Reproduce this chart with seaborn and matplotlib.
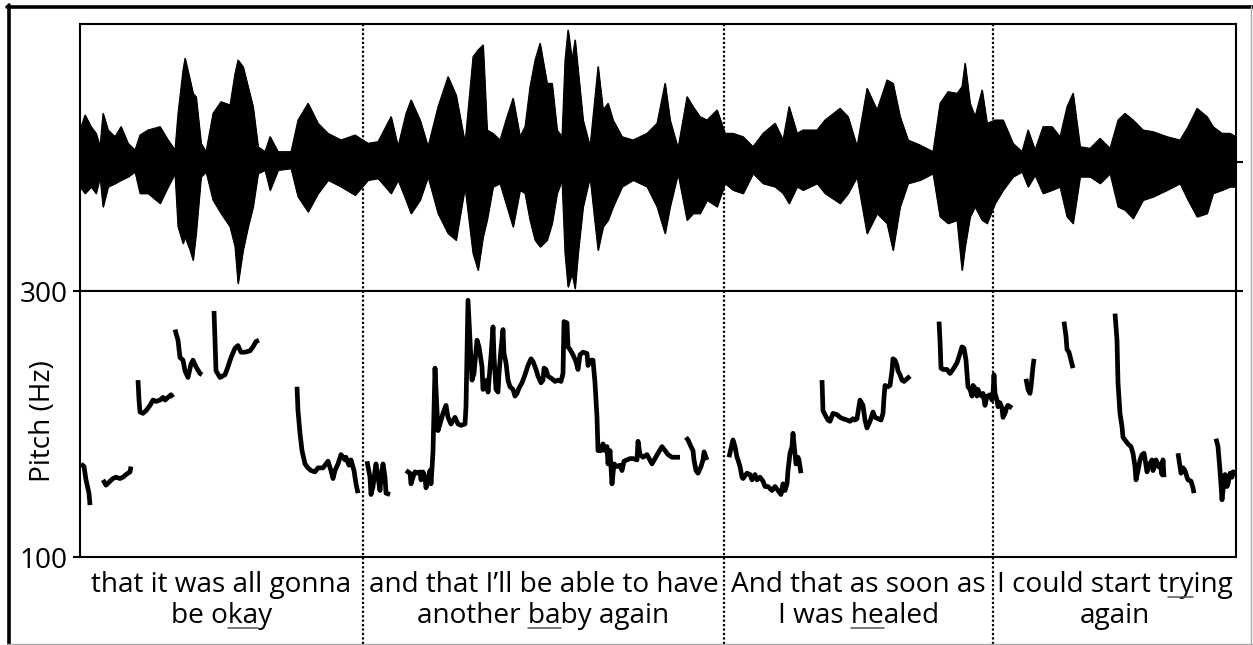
import numpy as np
import pandas as pd
import matplotlib
matplotlib.use("Agg")
import matplotlib.pyplot as plt
import seaborn as sns
from matplotlib.lines import Line2D
from matplotlib.transforms import blended_transform_factory, IdentityTransform

# ---------------- data ----------------
# waveform amplitude envelope (time in frames, amplitude in arbitrary units)
wave_t = [0, 5, 11, 16, 20, 23, 28, 35, 41, 48, 55, 60, 68, 80, 88, 95, 98, 103, 105, 110,
          113, 116, 121, 126, 133, 141, 150, 155, 158, 163, 168, 173, 178, 185, 190, 198, 211,
          218, 228, 238, 248, 261, 275, 288, 298, 311, 318, 326, 331, 340, 348, 358, 368, 376,
          385, 393, 398, 403, 407, 413, 420, 427, 433, 440, 445, 450, 455, 460, 467, 472, 477,
          482, 485, 488, 492, 495, 498, 503, 510, 518, 523, 528, 533, 542, 553, 567, 577, 585,
          590, 598, 607, 613, 620, 627, 637, 645, 653, 663, 673, 683, 695, 703, 709, 717, 723,
          737, 745, 760, 768, 777, 787, 797, 807, 813, 820, 828, 840, 853, 860, 868, 877, 882,
          885, 890, 895, 902, 907, 915, 923, 933, 942, 948, 955, 963, 972, 980, 987, 993, 1000,
          1010, 1020, 1030, 1038, 1045, 1053, 1063, 1073, 1087, 1100, 1108, 1117, 1127, 1133,
          1142, 1150, 1156]
wave_top = [95, 140, 105, 85, 45, 145, 95, 75, 105, 55, 35, 80, 95, 105, 65, 35, 145, 275, 310, 245,
            205, 195, 55, 30, 145, 180, 170, 265, 305, 285, 225, 165, 45, 30, 75, 30, 30,
            125, 175, 115, 85, 65, 80, 55, 60, 135, 45, 145, 185, 125, 45, 165, 255, 200,
            55, 315, 335, 350, 95, 85, 65, 135, 190, 75, 105, 225, 305, 355, 235, 235, 95,
            75, 305, 395, 305, 365, 275, 125, 45, 285, 155, 175, 125, 75, 65, 85, 115, 235,
            125, 40, 195, 165, 135, 125, 155, 85, 85, 75, 45, 85, 115, 65, 165, 85, 95,
            95, 125, 160, 135, 45, 220, 155, 245, 235, 135, 65, 50, 30, 175, 210, 205, 225,
            295, 175, 135, 215, 115, 125, 125, 55, 30, 95, 35, 105, 105, 75, 165, 205, 45,
            40, 70, 40, 125, 145, 125, 95, 90, 75, 65, 105, 160, 135, 105,
            85, 85, 75]
wave_bot = [-75, -95, -75, -95, -45, -135, -75, -65, -55, -45, -30, -95, -95, -125, -75, -35, -195, -245, -225, -265,
            -295, -215, -45, -30, -115, -155, -195, -255, -365, -265, -195, -135, -35, -25, -85, -25, -20,
            -105, -150, -95, -55, -75, -100, -55, -50, -95, -55, -115, -155, -115, -45, -155, -215, -235,
            -75, -275, -325, -225, -175, -75, -65, -135, -195, -85, -95, -175, -235, -255, -235, -185, -95,
            -55, -275, -375, -335, -380, -275, -135, -45, -265, -195, -175, -135, -75, -55, -75, -135, -215,
            -135, -35, -175, -155, -155, -115, -135, -65, -85, -95, -35, -65, -75, -95, -125, -75, -85,
            -65, -95, -125, -95, -45, -215, -155, -185, -265, -135, -65, -55, -35, -165, -185, -175, -325,
            -255, -165, -135, -175, -185, -125, -85, -45, -30, -75, -40, -95, -85, -75, -165, -185, -45,
            -45, -65, -35, -135, -145, -170, -115, -105, -85, -65, -115, -165, -155, -95,
            -85, -75, -75]

# pitch track (Hz); None separates voiced stretches
pitch_t = [1, 4, 6, 9, 10, None,
           23, 26, 30, 33, 36, 40, 43, 46, 50, 51, None,
           58, 59, 60, 63, 66, 70, 73, 76, 80, 83, 85, 88, 91, 93, None,
           95, 98, 100, 103, 105, 108, 111, 113, 116, 120, 122, None,
           134, 135, 136, 140, 145, 148, 151, 155, 158, 161, 165, 170, 173, 176, 179, None,
           217, 218, 220, 222, 225, 228, 231, 235, 238, 243, 248, 251, 253, 255, 258, 261, 265, 266,
           269, 271, 274, 276, 278, None,
           287, 290, 291, 293, 295, 296, 298, 300, 301, 303, 305, 306, 310, None,
           326, 330, 331, 333, 335, 338, 340, 341, 343, 345, 346, 348, 350, 351, 353, 355, 356, 358,
           360, 363, 366, 368, 371, 375, 378, 381, 385, 386, 388,
           392, 394, 397, 399, 402, 403, 405, 407, 408, 411, 413, 414, 416, 418, 419, 421, 423, 424,
           426, 428, 430, 433, 435, 437, 439, 442, 445, 448, 451, 453, 456, 458, 461, 463, 464, 466,
           468, 472, 475, 478, 481, 483, 484, 487, 488, 490, 493, 496, 498, 500, 503, 507, 508, 511,
           513, 515, 517, 518, 521, 523, 525, 527, 528, 530, 532, 534, 537, 540, 542, 544, 547, 550,
           553, 557, 558, 560, 563, 567, 572, 575, 578, 582, 585, 588, 592, 597, 600, None,
           606, 608, 611, 613, 614, 616, 618, 621, 623, 624, 626, 627, None,
           649, 652, 653, 655, 657, 658, 660, 662, 663, 667, 670, 672, 675, 677, 680, 683, 685, 688,
           692, 695, 698, 701, 703, 705, 707, 708, 710, 712, 713, 714, 716, 718, 719, 721, None,
           742, 743, 745, 748, 750, 753, 757, 760, 763, 767, 770, 773, 775, 777, 780, 783, 785, 787,
           790, 793, 795, 798, 801, 803, 804, 805, 808, 810, 812, 813, 815, 817, 818, 820, 822, 824,
           827, 830, None,
           859, 860, 861, 863, 867, 870, 873, 877, 880, 882, 884, 886, 888, 890, 892, 893, 895, 897,
           898, 900, 902, 903, 905, 907, 908, 910, 912, 913, 914, 915, 917, 918, 920, 922, 923, 925,
           927, 928, 930, 932, None,
           946, 948, 950, 951, 953, 954, None,
           984, 986, 987, 989, 991, 993, None,
           1035, 1037, 1038, 1040, 1042, 1043, 1046, 1048, 1051, 1053, 1055, 1056, 1058, 1060, 1062,
           1064, 1066, 1067, 1069, 1072, 1073, 1076, 1078, 1080, 1082, 1083, 1084, None,
           1098, 1099, 1101, 1103, 1105, 1107, 1108, 1111, 1113, 1114, None,
           1136, 1138, 1140, 1142, 1143, 1145, 1147, 1148, 1150, 1152, 1153, 1155, 1156]
pitch_hz = [170, 168, 158, 148, 139, None,
            158, 154, 157, 159, 160, 159, 160, 162, 164, 168, None,
            233, 218, 209, 208, 210, 214, 218, 217, 218, 220, 218, 220, 222, 220, None,
            271, 263, 250, 248, 240, 235, 245, 248, 243, 238, 237, None,
            285, 263, 240, 235, 237, 243, 250, 257, 259, 254, 254, 255, 258, 262, 263, None,
            228, 210, 193, 180, 170, 167, 165, 164, 167, 167, 172, 165, 159, 165, 170, 177, 173, 175,
            169, 173, 165, 155, 148, None,
            172, 160, 147, 153, 165, 170, 160, 150, 160, 170, 160, 148, 147, None,
            165, 163, 155, 160, 164, 163, 164, 158, 164, 160, 152, 158, 165, 155, 179, 242, 226, 195,
            200, 208, 214, 205, 200, 205, 200, 199, 200, 213, 293,
            233, 238, 263, 258, 243, 226, 231, 233, 224, 251, 273, 251, 226, 224, 238, 256, 271, 253,
            246, 233, 228, 226, 221, 223, 227, 231, 237, 244, 249, 247, 241, 236, 231, 233, 242, 241,
            236, 234, 232, 233, 232, 238, 277, 276, 258, 256, 252, 247, 241, 252, 254, 253, 244, 248,
            248, 231, 205, 180, 180, 185, 180, 183, 170, 180, 155, 170, 168, 169, 165, 172, 173, 174,
            174, 173, 187, 177, 175, 177, 170, 174, 178, 183, 180, 177, 175, 175, 175, None,
            190, 188, 183, 180, 173, 165, 163, 168, 173, 179, 175, 173, None,
            175, 185, 188, 183, 175, 173, 168, 160, 159, 163, 162, 158, 162, 158, 160, 157, 153, 153,
            150, 153, 150, 147, 155, 150, 155, 165, 178, 183, 193, 185, 170, 175, 173, 163, None,
            233, 210, 207, 203, 202, 208, 207, 205, 204, 203, 202, 204, 203, 204, 218, 214, 203, 197,
            202, 209, 205, 204, 203, 208, 220, 229, 228, 229, 240, 249, 248, 244, 240, 237, 233, 232,
            234, 236, None,
            277, 263, 242, 241, 241, 238, 241, 246, 253, 258, 257, 248, 228, 226, 221, 229, 227, 221,
            226, 222, 221, 223, 214, 221, 221, 222, 218, 223, 237, 223, 218, 213, 216, 212, 205, 208,
            213, 214, 213, 212, None,
            234, 226, 223, 228, 243, 249, None,
            277, 266, 256, 254, 248, 242, None,
            283, 263, 231, 208, 198, 190, 187, 185, 183, 178, 168, 158, 165, 173, 177,
            178, 169, 164, 169, 173, 165, 173, 168, 170, 162, 173, 160, None,
            178, 173, 163, 167, 165, 160, 158, 157, 152, 148, None,
            189, 183, 165, 143, 150, 162, 153, 155, 163, 160, 164, 163, 165]

# phrase boundaries and transcription
boundaries = [0, 283, 644, 913, 1156]
line1 = ["that it was all gonna", "and that I\u2019ll be able to have", "And that as soon as",
         "I could start trying"]
line2 = ["be okay", "another baby again", "I was healed", "again"]
# (line index, start char, end char) of the underlined stressed syllable
underline = [(2, 4, 6), (2, 8, 10), (2, 6, 8), (1, 15, 17)]

pitch_ticks = [100, 300]

# ---------------- build frames ----------------
seg, s = [], 0
for v in pitch_t:
    if v is None:
        s += 1
    seg.append(s)
pitch_df = pd.DataFrame({"t": pitch_t, "hz": pitch_hz, "seg": seg}).dropna()
wave_df = pd.DataFrame({"t": wave_t, "top": wave_top, "bot": wave_bot})

# ---------------- figure ----------------
sns.set_theme(style="white")
plt.rcParams["font.family"] = ["Open Sans", "DejaVu Sans"]
W, H = 1253, 645
fig = plt.figure(figsize=(W / 100, H / 100), dpi=100)
fig.patch.set_facecolor("white")


def frac(x0, y0, x1, y1):
    return [x0 / W, 1 - y1 / H, (x1 - x0) / W, (y1 - y0) / H]


ax_w = fig.add_axes(frac(80, 24, 1236, 291))
ax_p = fig.add_axes(frac(80, 291, 1236, 557))
FS = 20.2

# waveform
ax_w.fill_between(wave_df["t"], wave_df["top"], wave_df["bot"], color="black", lw=0.8)
sns.lineplot(data=wave_df, x="t", y="top", ax=ax_w, color="black", lw=0.8)
sns.lineplot(data=wave_df, x="t", y="bot", ax=ax_w, color="black", lw=0.8)
ax_w.set_xlim(boundaries[0], boundaries[-1])
ax_w.set_ylim(-388, 413)
ax_w.set_xlabel("")
ax_w.set_ylabel("")
ax_w.set_xticks([])
ax_w.yaxis.tick_right()
ax_w.set_yticks([0, -388])
ax_w.tick_params(axis="y", right=True, left=False, length=5, width=1.5, color="black",
                 labelright=False, direction="out")

# pitch
sns.lineplot(data=pitch_df, x="t", y="hz", units="seg", estimator=None, ax=ax_p,
             color="black", lw=3.4, solid_capstyle="butt", solid_joinstyle="round")
ax_p.set_xlim(boundaries[0], boundaries[-1])
ax_p.set_ylim(100, 300)
ax_p.set_xticks([])
ax_p.set_yticks(pitch_ticks)
ax_p.set_yticklabels([str(v) for v in pitch_ticks], fontsize=FS)
ax_p.tick_params(axis="y", left=True, length=5, width=1.5, color="black", pad=4,
                 direction="out", labelcolor="black")
ax_p.set_xlabel("")
ax_p.set_ylabel("")

for ax in (ax_w, ax_p):
    for sp in ax.spines.values():
        sp.set_visible(True)
        sp.set_color("black")
        sp.set_linewidth(1.5)
    ax.set_facecolor("white")

fig.text(43 / W, 1 - 421 / H, "Pitch (Hz)", rotation=90, ha="center", va="center",
         fontsize=FS, color="black")

# dotted phrase boundaries
bt = blended_transform_factory(ax_p.transData, fig.transFigure)
for b in boundaries[1:-1]:
    fig.add_artist(Line2D([b, b], [1 - 24 / H, 0], transform=bt, color="black",
                          lw=1.6, ls=(0, (1, 1))))

# transcription
texts = []
for i in range(4):
    xc = (boundaries[i] + boundaries[i + 1]) / 2
    t1 = ax_p.text(xc, 1 - 592 / H, line1[i], transform=bt, ha="center", va="baseline",
                   fontsize=FS, color="black", clip_on=False)
    t2 = ax_p.text(xc, 1 - 623 / H, line2[i], transform=bt, ha="center", va="baseline",
                   fontsize=FS, color="black", clip_on=False)
    texts.append((t1, t2))

fig.canvas.draw()
renderer = fig.canvas.get_renderer()
for i, (li, a, b) in enumerate(underline):
    txt = texts[i][li - 1]
    s_ = txt.get_text()
    bb = txt.get_window_extent(renderer)
    fp = txt.get_fontproperties()
    w_full = renderer.get_text_width_height_descent(s_, fp, ismath=False)[0]
    x_left = (bb.x0 + bb.x1) / 2 - w_full / 2
    xa = x_left + renderer.get_text_width_height_descent(s_[:a], fp, ismath=False)[0] if a > 0 else x_left
    xb = x_left + renderer.get_text_width_height_descent(s_[:b], fp, ismath=False)[0]
    base_y = (1 - (592 if li == 1 else 623) / H) * H
    yy = base_y - 5
    fig.add_artist(Line2D([xa, xb], [yy, yy], transform=IdentityTransform(),
                          color="#555555", lw=1.1))

# outer frame of the picture
fig.add_artist(Line2D([8.5, 8.5], [0, H - 5], transform=IdentityTransform(), color="black", lw=2.6))
fig.add_artist(Line2D([7, W], [H - 6.5, H - 6.5], transform=IdentityTransform(), color="black", lw=2.6))
fig.add_artist(Line2D([W - 2.5, W - 2.5], [0, H - 6], transform=IdentityTransform(), color="#aaaaaa", lw=1.0))
fig.add_artist(Line2D([7, W], [1.5, 1.5], transform=IdentityTransform(), color="#aaaaaa", lw=1.0))

fig.savefig("out.png", dpi=100, facecolor="white")
